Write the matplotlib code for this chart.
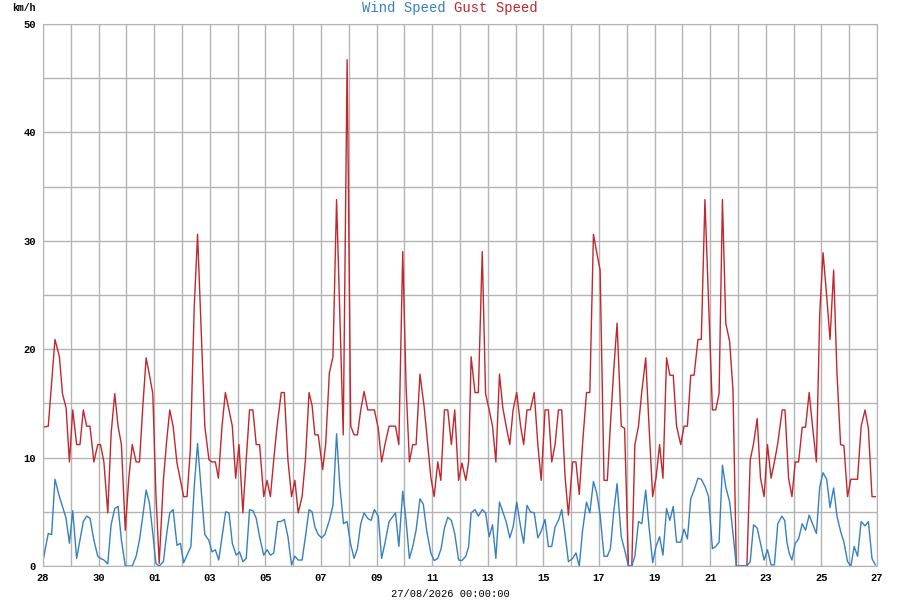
import numpy as np
import matplotlib
matplotlib.use('Agg')
import matplotlib.pyplot as plt

plt.rcParams['font.family'] = ['Liberation Mono', 'DejaVu Sans Mono']

# days since 28/07 00:00
gust_t = [0.00, 0.19, 0.43, 0.59, 0.70, 0.83, 0.95, 1.07, 1.21, 1.33, 1.45, 1.57, 1.69, 1.83, 1.97, 2.07,
          2.19, 2.33, 2.45, 2.58, 2.70, 2.82, 2.96, 3.09, 3.21, 3.35, 3.47, 3.59, 3.71, 3.83, 3.95, 4.06,
          4.18, 4.33, 4.45, 4.56, 4.68, 4.82, 5.06, 5.18, 5.30, 5.44, 5.56, 5.70, 5.82, 5.97, 6.08, 6.20,
          6.31, 6.44, 6.56, 6.69, 6.81, 6.93, 7.05, 7.19, 7.31, 7.43, 7.55, 7.67, 7.79, 7.94, 8.06, 8.18,
          8.30, 8.42, 8.57, 8.68, 8.81, 8.94, 9.06, 9.18, 9.32, 9.44, 9.57, 9.68, 9.78, 9.90, 10.06, 10.17,
          10.30, 10.43, 10.56, 10.68, 10.80, 10.94, 11.07, 11.19, 11.31, 11.43, 11.55, 11.68, 11.80, 11.92,
          12.06, 12.18, 12.30, 12.45, 12.68, 12.80, 12.94, 13.06, 13.18, 13.30, 13.42, 13.56, 13.71, 13.83,
          13.95, 14.07, 14.20, 14.31, 14.44, 14.56, 14.69, 14.81, 14.95, 15.07, 15.21, 15.31, 15.40, 15.54,
          15.66, 15.80, 15.92, 16.05, 16.17, 16.29, 16.42, 16.54, 16.66, 16.79, 16.91, 17.04, 17.18, 17.29,
          17.41, 17.53, 17.67, 17.80, 17.92, 18.06, 18.18, 18.30, 18.42, 18.54, 18.66, 18.78, 18.90, 19.05,
          19.17, 19.29, 19.41, 19.55, 19.67, 19.80, 19.92, 20.04, 20.18, 20.30, 20.41, 20.53, 20.65, 20.80,
          20.92, 21.06, 21.18, 21.29, 21.42, 21.54, 21.68, 21.80, 21.93, 22.05, 22.18, 22.30, 22.43, 22.55,
          22.67, 22.79, 22.94, 23.06, 23.18, 23.30, 23.42, 23.56, 23.68, 23.81, 24.08, 24.20, 24.32, 24.44,
          24.56, 24.70, 24.82, 24.94, 25.08, 25.20, 25.32, 25.44, 25.56, 25.69, 25.81, 25.94, 26.06, 26.19,
          26.31, 26.43, 26.59, 26.69, 26.82, 26.94, 27.06, 27.18, 27.31, 27.43, 27.56, 27.68, 27.82, 27.94,
          28.06, 28.19, 28.31, 28.44, 28.56, 28.69, 28.81, 28.94, 29.06, 29.18, 29.30, 29.43, 29.57, 29.69,
          29.82, 29.94]
gust_v = [12.8, 12.9, 20.9, 19.3, 15.9, 14.6, 9.6, 14.4, 11.2, 11.2, 14.4, 12.9, 12.9, 9.6, 11.2, 11.2,
          9.6, 4.9, 12.2, 15.9, 12.9, 11.2, 3.3, 8.2, 11.2, 9.6, 9.6, 14.7, 19.2, 17.6, 15.9, 6.7,
          0.25, 7.9, 11.6, 14.4, 12.9, 9.5, 6.4, 6.4, 10.7, 23.9, 30.6, 21.2, 12.9, 9.8, 9.6, 9.6,
          8.1, 12.9, 16.0, 14.4, 12.9, 8.1, 11.2, 4.9, 9.8, 14.4, 14.4, 11.2, 11.2, 6.4, 7.9, 6.4,
          9.8, 12.9, 16.0, 16.0, 9.8, 6.4, 7.9, 4.9, 6.4, 9.8, 16.0, 14.8, 12.1, 12.1, 8.9, 11.3,
          17.8, 19.3, 33.8, 23.0, 12.1, 46.7, 12.9, 12.1, 12.1, 14.4, 16.1, 14.4, 14.4, 14.4,
          12.7, 9.6, 11.2, 12.9, 12.9, 11.2, 29.0, 16.6, 9.6, 11.2, 11.2, 17.7, 14.7, 11.5,
          8.2, 6.4, 9.6, 7.9, 14.4, 14.4, 11.2, 14.4, 7.9, 9.5, 7.9, 9.6, 19.3, 16.0,
          16.0, 29.0, 15.9, 14.4, 12.9, 9.6, 17.7, 14.6, 12.9, 11.2, 14.4, 16.0, 12.9, 11.2,
          14.4, 14.4, 16.0, 11.2, 7.9, 14.4, 14.4, 9.6, 11.2, 14.4, 14.4, 8.2, 4.7, 9.6,
          9.6, 6.6, 11.3, 16.0, 16.0, 30.6, 28.9, 27.3, 7.9, 7.9, 13.0, 18.1, 22.4, 12.9,
          12.7, 0.0, 0.0, 11.2, 12.9, 16.1, 19.2, 12.9, 6.4, 8.1, 11.2, 8.1, 19.2, 17.6,
          17.6, 12.9, 11.2, 12.9, 12.9, 17.6, 17.6, 20.9, 20.9, 33.8, 14.4, 14.4, 15.9, 33.8,
          22.4, 20.7, 16.2, 0.0, 0.0, 0.0, 0.0, 9.8, 11.3, 13.6, 8.1, 6.4, 11.2, 8.1,
          9.6, 11.3, 14.4, 14.4, 8.1, 6.4, 9.6, 9.6, 12.8, 12.8, 16.0, 12.9, 9.6, 23.3,
          28.9, 24.9, 20.9, 27.3, 17.8, 11.2, 11.1, 6.4, 8.0, 8.0, 8.0, 12.9, 14.4, 12.7,
          6.4, 6.4]

wind_t = [0.00, 0.19, 0.31, 0.43, 0.59, 0.70, 0.83, 0.95, 1.07, 1.21, 1.33, 1.45, 1.57, 1.69, 1.83, 1.97,
          2.07, 2.19, 2.33, 2.45, 2.58, 2.70, 2.82, 2.96, 3.09, 3.21, 3.35, 3.47, 3.59, 3.71, 3.83, 3.95,
          4.06, 4.18, 4.33, 4.45, 4.56, 4.68, 4.82, 4.94, 5.06, 5.18, 5.32, 5.44, 5.56, 5.70, 5.82, 5.96,
          6.08, 6.20, 6.32, 6.45, 6.57, 6.69, 6.81, 6.95, 7.07, 7.19, 7.31, 7.43, 7.55, 7.67, 7.79, 7.94,
          8.06, 8.18, 8.30, 8.44, 8.56, 8.68, 8.81, 8.94, 9.06, 9.18, 9.32, 9.44, 9.57, 9.68, 9.78, 9.90,
          10.02, 10.14, 10.30, 10.43, 10.56, 10.68, 10.81, 10.94, 11.06, 11.19, 11.31, 11.43, 11.55, 11.68,
          11.80, 11.92, 12.06, 12.18, 12.30, 12.45, 12.68, 12.80, 12.94, 13.06, 13.18, 13.30, 13.42, 13.56,
          13.68, 13.80, 13.95, 14.07, 14.20, 14.32, 14.44, 14.56, 14.69, 14.81, 14.95, 15.07, 15.21, 15.31,
          15.40, 15.54, 15.66, 15.80, 15.92, 16.05, 16.17, 16.29, 16.42, 16.54, 16.66, 16.79, 16.91, 17.04,
          17.18, 17.29, 17.41, 17.53, 17.67, 17.80, 17.92, 18.06, 18.18, 18.30, 18.42, 18.54, 18.66, 18.78,
          18.90, 19.05, 19.17, 19.29, 19.41, 19.55, 19.67, 19.80, 19.92, 20.04, 20.18, 20.30, 20.41, 20.53,
          20.65, 20.80, 20.92, 21.06, 21.18, 21.29, 21.42, 21.54, 21.68, 21.80, 21.93, 22.05, 22.18, 22.30,
          22.43, 22.55, 22.67, 22.79, 22.94, 23.06, 23.18, 23.30, 23.42, 23.56, 23.68, 23.82, 23.94, 24.08,
          24.20, 24.32, 24.44, 24.56, 24.70, 24.82, 24.94, 25.08, 25.20, 25.32, 25.44, 25.56, 25.69, 25.81,
          25.94, 26.06, 26.19, 26.31, 26.43, 26.58, 26.68, 26.76, 26.84, 26.94, 27.06, 27.18, 27.31, 27.43,
          27.56, 27.68, 27.82, 27.94, 28.06, 28.19, 28.31, 28.44, 28.56, 28.69, 28.81, 28.94, 29.06, 29.18,
          29.30, 29.43, 29.57, 29.69, 29.82, 29.94]
wind_v = [0.5, 3.0, 2.9, 8.0, 6.4, 5.5, 4.4, 2.1, 5.1, 0.7, 2.4, 4.1, 4.6, 4.4, 2.4, 0.9,
          0.7, 0.55, 0.2, 3.8, 5.3, 5.5, 2.4, 0.0, 0.0, 0.0, 0.9, 2.4, 4.6, 7.0, 5.8, 3.0,
          0.25, 0.0, 0.4, 3.0, 4.9, 5.2, 1.9, 2.1, 0.3, 1.0, 1.8, 7.3, 11.3, 6.7, 2.9, 2.4,
          1.3, 1.5, 0.55, 2.9, 5.0, 4.9, 2.1, 1.0, 1.3, 0.4, 0.7, 5.2, 5.1, 4.4, 2.7, 1.0,
          1.5, 1.0, 1.2, 4.1, 4.1, 4.3, 2.7, 0.1, 0.9, 0.55, 0.55, 2.7, 5.2, 5.0, 3.6, 2.9,
          2.6, 2.9, 4.2, 5.6, 12.2, 7.3, 3.9, 4.1, 2.1, 0.7, 1.6, 3.9, 4.9, 4.4,
          4.2, 5.2, 4.6, 0.7, 2.1, 4.1, 4.9, 1.8, 6.9, 4.2, 0.7, 1.8, 3.3, 6.2,
          5.7, 3.3, 1.2, 0.5, 0.7, 1.6, 3.5, 4.5, 4.2, 3.0, 0.55, 0.5, 0.9, 1.8,
          4.9, 5.2, 4.6, 5.2, 4.9, 2.7, 3.8, 0.7, 5.9, 5.0, 4.1, 2.6, 3.6, 5.9,
          3.6, 2.1, 5.6, 5.0, 4.9, 2.6, 3.2, 4.3, 1.8, 1.8, 3.6, 4.2, 5.2, 2.9,
          0.4, 0.7, 1.2, 0.0, 3.3, 5.9, 4.9, 7.8, 6.7, 4.7, 0.9, 0.9, 1.6, 5.0,
          7.6, 2.7, 1.5, 0.0, 0.0, 0.9, 4.1, 3.9, 7.0, 3.6, 0.3, 1.8, 2.7, 1.0,
          5.3, 4.2, 5.5, 2.2, 2.2, 3.4, 2.5, 6.2, 7.0, 8.1, 8.0, 7.3, 6.4, 1.6,
          1.8, 2.2, 9.3, 7.3, 5.9, 3.0, 0.0, 0.0, 0.0, 0.0, 0.4, 3.8, 3.5, 2.1,
          0.55, 1.5, 0.1, 0.1, 3.9, 4.6, 4.2, 2.2, 1.2, 0.55, 2.1, 2.5, 3.9, 3.3,
          4.7, 3.9, 3.0, 7.3, 8.6, 8.0, 5.4, 7.2, 4.6, 3.2, 2.2, 0.4, 0.0, 1.8,
          0.9, 4.1, 3.7, 4.1, 0.7, 0.1]

day_labels = ['28', '29', '30', '31', '01', '02', '03', '04', '05', '06', '07', '08', '09', '10', '11',
              '12', '13', '14', '15', '16', '17', '18', '19', '20', '21', '22', '23', '24', '25', '26', '27']
y_ticks = [0, 5, 10, 15, 20, 25, 30, 35, 40, 45, 50]

gust_color = '#c1272d'
wind_color = '#3580c0'
grid_color = '#b4b4b4'

fig = plt.figure(figsize=(9, 6), dpi=100)
ax = fig.add_axes([43 / 900, 34 / 600, 834 / 900, 542 / 600])

ax.plot(gust_t, gust_v, color=gust_color, lw=1.0)
ax.plot(wind_t, wind_v, color=wind_color, lw=1.0)

ax.set_xlim(0, 30)
ax.set_ylim(0, 50)
ax.set_xticks(range(len(day_labels)))
ax.set_xticklabels([lab if i % 2 == 0 else '' for i, lab in enumerate(day_labels)])
ax.set_yticks(y_ticks)
ax.set_yticklabels([str(v) if v % 10 == 0 else '' for v in y_ticks])
ax.grid(True, color=grid_color, lw=1.0)
ax.set_axisbelow(True)
for s in ax.spines.values():
    s.set_color(grid_color)
ax.tick_params(length=0, pad=5, labelsize=7.5)
for lab in ax.get_xticklabels() + ax.get_yticklabels():
    lab.set_fontweight('bold')

fig.text(446 / 900, 1 - 8 / 600, 'Wind Speed', color=wind_color, ha='right', va='center', fontsize=10)
fig.text(454 / 900, 1 - 8 / 600, 'Gust Speed', color=gust_color, ha='left', va='center', fontsize=10)
fig.text(12 / 900, 1 - 8 / 600, 'km/h', ha='left', va='center', fontsize=7, fontweight='bold')
fig.text(450 / 900, 1 - 594 / 600, '27/08/2026 00:00:00', ha='center', va='center', fontsize=7.5)

fig.savefig('out.png', dpi=100)
